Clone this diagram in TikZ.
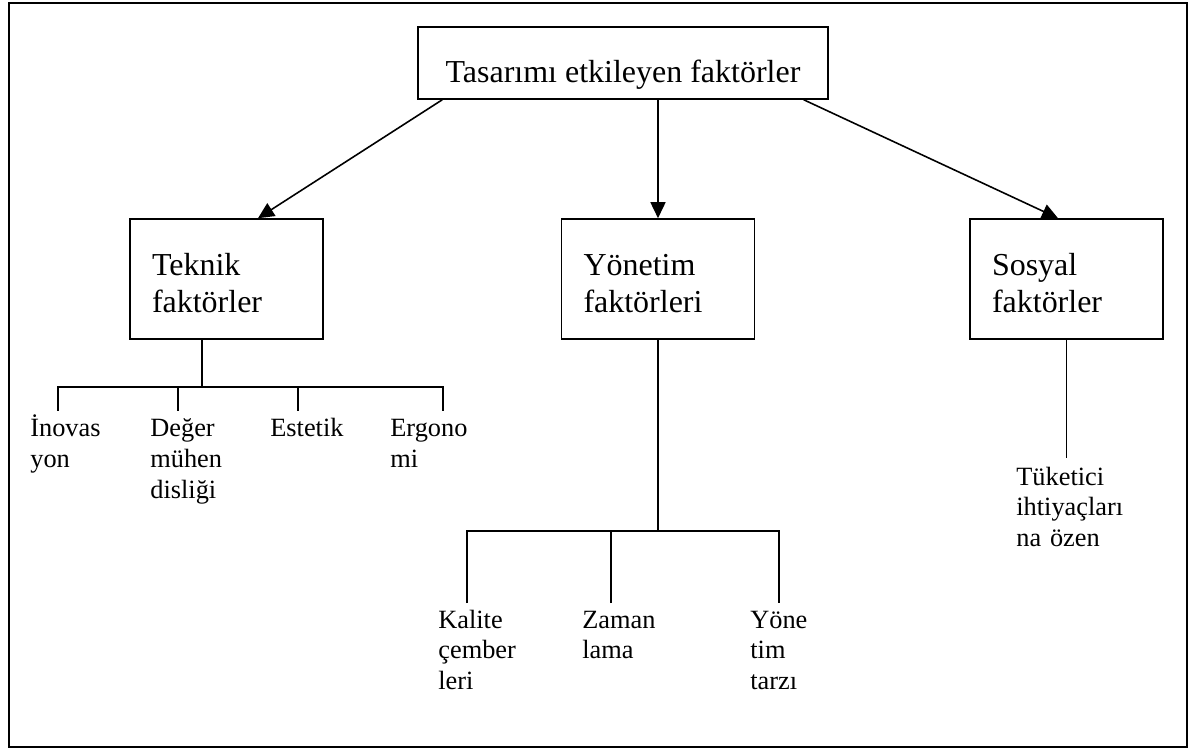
\documentclass[tikz,border=0pt]{standalone}
\usepackage{fontspec}
\setmainfont{Liberation Serif}
\usetikzlibrary{arrows.meta}

\tikzset{
  kutu/.style={draw, line width=0.9pt, minimum width=3.86cm, minimum height=2.4cm,
    text width=2.98cm, inner xsep=0.44cm, align=left,
    text height=0.6cm, text depth=0.72cm, font=\fontsize{18.2}{20.5}\selectfont},
  yaprak/.style={anchor=base west, inner sep=0pt, text width=2.6cm, align=left,
    font=\fontsize{15}{17.36}\selectfont},
  ok/.style={line width=0.9pt, -{Triangle[length=0.32cm,width=0.3cm]}},
  hat/.style={line width=0.9pt}
}

\begin{document}
\begin{tikzpicture}[x=0.02cm, y=-0.02cm]

    \useasboundingbox (0,0) rectangle (1196,749);

    % Dis cerceve
    \draw[line width=1.1pt] (9,3) rectangle (1187,747);

    % Ana kutu
    \node[draw, line width=0.9pt, minimum width=8.2cm, minimum height=1.44cm,
          text height=0.8cm, text depth=0pt, font=\fontsize{18.2}{20.5}\selectfont]
          (ana) at (623,63) {Tasarımı etkileyen faktörler};

    % Alt kutular
    \node[kutu] (teknik)  at (226.5,279)  {Teknik\\faktörler};
    \node[kutu] (yonetim) at (658,279)    {Yönetim\\faktörleri};
    \node[kutu] (sosyal)  at (1066.5,279) {Sosyal\\faktörler};

    % Oklar
    \draw[ok] ([xshift=0.5cm]ana.south west) -- ([xshift=0.63cm]teknik.north);
    \draw[ok] (yonetim.north |- ana.south) -- (yonetim.north);
    \draw[ok] ([xshift=-0.5cm]ana.south east) -- ([xshift=-0.17cm]sosyal.north);

    % Teknik faktorler dallari
    \coordinate (tbus) at (202,387);
    \coordinate (t1) at (58,411);
    \coordinate (t2) at (178,411);
    \coordinate (t3) at (298,411);
    \coordinate (t4) at (443,411);
    \draw[hat] (tbus |- teknik.south) -- (tbus);
    \draw[hat] (t1) -- (t1 |- tbus) -- (t4 |- tbus) -- (t4);
    \foreach \d in {t2,t3} { \draw[hat] (\d) -- (\d |- tbus); }

    \node[yaprak] (inovasyon) at (30,437)  {İnovas\\yon};
    \node[yaprak] (deger)     at (150,437) {Değer\\mühen\\disliği};
    \node[yaprak] (estetik)   at (270,437) {Estetik};
    \node[yaprak] (ergonomi)  at (390,437) {Ergono\\mi};

    % Yonetim faktorleri dallari
    \coordinate (ybus) at (659,531);
    \coordinate (y1) at (467,603);
    \coordinate (y2) at (611,603);
    \coordinate (y3) at (779,603);
    \draw[hat] (yonetim.south) -- (yonetim.south |- ybus);
    \draw[hat] (y1) -- (y1 |- ybus) -- (y3 |- ybus) -- (y3);
    \draw[hat] (y2) -- (y2 |- ybus);

    \node[yaprak] (kalite)    at (438,628) {Kalite\\çember\\leri};
    \node[yaprak] (zamanlama) at (582,628) {Zaman\\lama};
    \node[yaprak] (tarz)      at (750,628) {Yöne\\tim\\tarzı};

    % Sosyal faktorler dali
    \coordinate (s1) at (1067,458);
    \draw[hat] (sosyal.south) -- (sosyal.south |- s1);

    \node[yaprak] (tuketici) at (1016,485) {Tüketici\\ihtiyaçları\\na özen};

\end{tikzpicture}
\end{document}
